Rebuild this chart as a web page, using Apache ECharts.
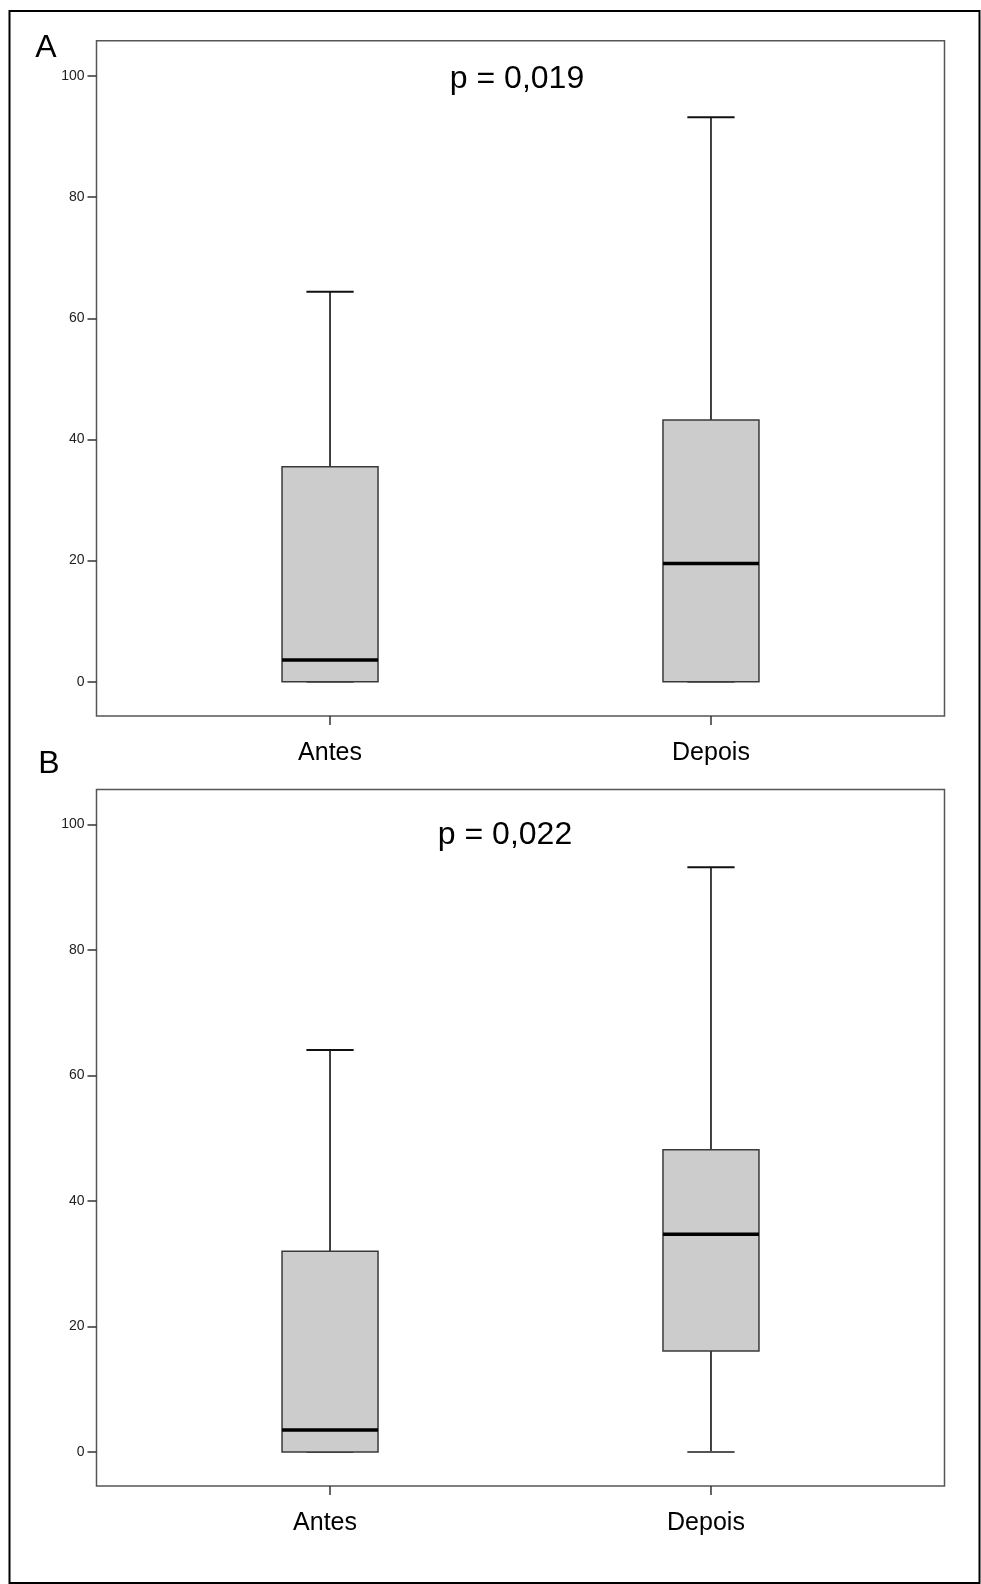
<!DOCTYPE html>
<html>
<head>
<meta charset="utf-8">
<script src="https://cdn.jsdelivr.net/npm/echarts@6/dist/echarts.min.js"></script>
<style>
html,body{margin:0;padding:0;background:#fff;}
#chart{width:981px;height:1584px;}
</style>
</head>
<body>
<div id="chart"></div>
<script>
// ---- data ----
const categories = ['Antes', 'Depois'];
const yTicks = [0, 20, 40, 60, 80, 100];
// [min, Q1, median, Q3, max]
const statsA_Antes  = [0, 0, 3.6, 35.5, 64.4];
const statsA_Depois = [0, 0, 19.5, 43.2, 93.2];
const statsB_Antes  = [0, 0, 3.5, 32.0, 64.1];
const statsB_Depois = [0, 16.1, 34.7, 48.2, 93.2];
const pLabels = ['p = 0,019', 'p = 0,022'];
const panelLetters = ['A', 'B'];

const FONT = '"Liberation Sans", Arial, Helvetica, sans-serif';

const panels = [
  { stats: [statsA_Antes, statsA_Depois], top: 40.7, height: 675.3, ymin: -5.66, ymax: 105.83, labelPad: [0, 0, 0, 0] },
  { stats: [statsB_Antes, statsB_Depois], top: 789.5, height: 696.5, ymin: -5.41, ymax: 105.6, labelPad: [0, 10, 0, 0] }
];

const gridLeft = 96.5, gridWidth = 848;
// category positions on a value x-axis (1 = Antes, 2 = Depois)
const xMin = 0.387, xMax = 2.613;

function renderBox(params, api) {
  const x = api.value(0);
  const v = [1, 2, 3, 4, 5].map(i => api.value(i));
  const p = v.map(val => api.coord([x, val]));
  const band = api.size([1, 0])[0];
  const bw = band * 0.252, cw = band * 0.124;
  const cx = p[0][0];
  const wStyle = { stroke: '#111', lineWidth: 1.6 };
  return {
    type: 'group',
    children: [
      { type: 'line', shape: { x1: cx, y1: p[3][1], x2: cx, y2: p[4][1] }, style: wStyle },
      { type: 'line', shape: { x1: cx - cw / 2, y1: p[4][1], x2: cx + cw / 2, y2: p[4][1] }, style: { stroke: '#111', lineWidth: 2 } },
      { type: 'line', shape: { x1: cx, y1: p[0][1], x2: cx, y2: p[1][1] }, style: wStyle },
      { type: 'line', shape: { x1: cx - cw / 2, y1: p[0][1], x2: cx + cw / 2, y2: p[0][1] }, style: { stroke: '#555', lineWidth: 2 } },
      { type: 'rect', shape: { x: cx - bw / 2, y: p[3][1], width: bw, height: p[1][1] - p[3][1] },
        style: { fill: '#cccccc', stroke: '#3a3a3a', lineWidth: 1.5 } },
      { type: 'line', shape: { x1: cx - bw / 2, y1: p[2][1], x2: cx + bw / 2, y2: p[2][1] }, style: { stroke: '#000', lineWidth: 3.5 } }
    ]
  };
}

const grids = [], xAxes = [], yAxes = [], series = [];
panels.forEach((pn, i) => {
  grids.push({ left: gridLeft, top: pn.top, width: gridWidth, height: pn.height,
    show: true, borderColor: '#555', borderWidth: 1.5, backgroundColor: 'transparent',
    containLabel: false, outerBoundsMode: 'none' });
  xAxes.push({
    type: 'value', gridIndex: i, min: xMin, max: xMax, position: 'bottom',
    splitLine: { show: false }, axisLine: { show: false, onZero: false },
    axisTick: { show: true, length: 9, customValues: [1, 2], lineStyle: { color: '#333', width: 1.5 } },
    axisLabel: { show: true, customValues: [1, 2], margin: 25, color: '#000', fontSize: 25, fontFamily: FONT,
      padding: pn.labelPad,
      formatter: val => categories[Math.round(val) - 1] || '' }
  });
  yAxes.push({
    type: 'value', gridIndex: i, min: pn.ymin, max: pn.ymax, position: 'left',
    splitLine: { show: false }, axisLine: { show: false, onZero: false },
    axisTick: { show: true, length: 9, customValues: yTicks, lineStyle: { color: '#333', width: 1.5 } },
    axisLabel: { show: true, customValues: yTicks, margin: 12, color: '#222', fontSize: 14, fontFamily: FONT }
  });
  series.push({
    type: 'custom', xAxisIndex: i, yAxisIndex: i,
    renderItem: renderBox,
    encode: { x: 0, y: [1, 2, 3, 4, 5] },
    data: pn.stats.map((s, k) => [k + 1].concat(s)),
    silent: true
  });
});

const chart = echarts.init(document.getElementById('chart'), null, { renderer: 'canvas' });
chart.setOption({
  animation: false,
  backgroundColor: '#fff',
  grid: grids, xAxis: xAxes, yAxis: yAxes, series: series,
  graphic: [
    { type: 'rect', shape: { x: 9.5, y: 11, width: 970, height: 1572 }, style: { fill: 'none', stroke: '#000', lineWidth: 2 }, z: 0 },
    { type: 'text', x: 46, y: 32, style: { text: panelLetters[0], font: '32px ' + FONT, fill: '#000', textAlign: 'center', textVerticalAlign: 'top' } },
    { type: 'text', x: 49, y: 748, style: { text: panelLetters[1], font: '32px ' + FONT, fill: '#000', textAlign: 'center', textVerticalAlign: 'top' } },
    { type: 'text', x: 517, y: 63, style: { text: pLabels[0], font: '32px ' + FONT, fill: '#000', textAlign: 'center', textVerticalAlign: 'top' } },
    { type: 'text', x: 505, y: 819, style: { text: pLabels[1], font: '32px ' + FONT, fill: '#000', textAlign: 'center', textVerticalAlign: 'top' } }
  ]
});
</script>
</body>
</html>
